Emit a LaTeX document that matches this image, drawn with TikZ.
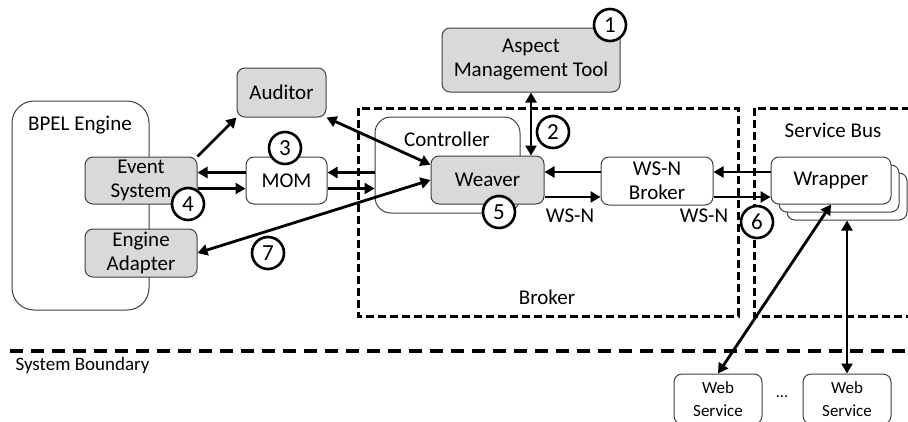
\documentclass[tikz,border=0pt]{standalone}
\usepackage{fontspec}
\setmainfont{Carlito}
\usetikzlibrary{arrows.meta}

\begin{document}
\begin{tikzpicture}[
    x=1pt, y=-1pt,
    every node/.style={font=\fontsize{21}{24}\selectfont},
    part/.style={draw=black!75, line width=1pt, rounded corners=8pt, align=center, inner sep=0pt, fill=white},
    shaded/.style={part, fill=black!15},
    num/.style={circle, draw, line width=2.6pt, fill=white, minimum size=32pt, inner sep=0pt, font=\fontsize{23}{23}\selectfont},
    zone/.style={line width=3pt, dash pattern=on 8pt off 4pt},
    link/.style={line width=2.8pt, -{Triangle[length=10pt,width=11pt]}},
    both/.style={link, {Triangle[length=10pt,width=11pt]}-{Triangle[length=10pt,width=11pt]}}
]
\useasboundingbox (0,0) rectangle (908,421);

% Broker and service bus areas
\draw[zone] (358,108) rectangle (738,316);
\draw[zone] (754,108) rectangle (930,316);
\node (brklbl) at (547,297) {Broker};
\node (buslbl) at (833,130) {Service Bus};

% System boundary
\draw[line width=3.4pt, dash pattern=on 13pt off 8pt] (10,351) -- (908,351);
\node[anchor=west, font=\fontsize{19}{24}\selectfont] (sysb) at (12,365) {System Boundary};

% BPEL engine
\node[part, rounded corners=22pt, minimum width=137pt, minimum height=209pt] (bpel) at (80.5,205.5) {};
\node (bpellbl) at (80,125) {BPEL Engine};
\node[shaded, minimum width=112pt, minimum height=47pt] (evt) at (141,180.5) {Event\\System};
\node[shaded, minimum width=112pt, minimum height=48pt] (ada) at (141,253) {Engine\\Adapter};

\node[shaded, minimum width=89pt, minimum height=49pt] (aud) at (281.5,92.5) {Auditor};
\node[part, minimum width=81pt, minimum height=47pt] (mom) at (286.5,180.5) {MOM};

% Controller with weaver
\node[part, rounded corners=16pt, minimum width=145pt, minimum height=96pt] (ctl) at (447.5,165) {};
\node (ctllbl) at (447,139) {Controller};
\node[shaded, minimum width=113pt, minimum height=48pt] (wea) at (487.5,180) {Weaver};

\node[shaded, minimum width=178pt, minimum height=64pt] (asp) at (531,60) {Aspect\\Management Tool};
\node[part, minimum width=112pt, minimum height=48pt] (wsn) at (657,181) {WS-N\\Broker};

% Wrapper stack
\node[part, minimum width=120pt, minimum height=47pt] (wrp3) at (847,196.5) {};
\node[part, minimum width=120pt, minimum height=47pt] (wrp2) at (839,188.5) {};
\node[part, minimum width=120pt, minimum height=47pt] (wrp) at (831,180.5) {Wrapper};

% Web services
\node[part, font=\fontsize{17}{23}\selectfont, minimum width=88pt, minimum height=50pt] (ws1) at (718,399) {Web\\Service};
\node[part, font=\fontsize{17}{23}\selectfont, minimum width=88pt, minimum height=50pt] (ws2) at (847,399) {Web\\Service};
\node[font=\fontsize{16}{16}\selectfont] (dots) at (782,397) {...};

% Connections
\draw[link] (evt.north east) -- (aud.south west);
\draw[both] (aud.south east) -- (wea.165);
\draw[both] (ada.east) -- (wea.west);
\draw[link] ([yshift=8pt]mom.west) -- ([yshift=8pt]evt.east);
\draw[link] ([yshift=-8pt]evt.east) -- ([yshift=-8pt]mom.west);
\draw[link] ([yshift=8pt]mom.east -| ctl.west) -- ([yshift=8pt]mom.east);
\draw[link] ([yshift=-8pt]mom.east) -- ([yshift=-8pt]mom.east -| ctl.west);
\draw[both] (asp.south) -- (asp.south |- wea.north);
\draw[link] ([yshift=9pt]wsn.west) -- ([yshift=9pt]wsn.west -| wea.east);
\draw[link] ([yshift=-16pt]wsn.west -| wea.east) -- ([yshift=-16pt]wsn.west);
\draw[link] ([yshift=9pt]wsn.east -| wrp.west) -- ([yshift=9pt]wsn.east);
\draw[link] ([yshift=-16pt]wsn.east) -- ([yshift=-16pt]wsn.east -| wrp.west);
\node (wsnl1) at (570,216) {WS-N};
\node (wsnl2) at (704,216) {WS-N};
\draw[both] (wrp.south) -- (ws1.north);
\draw[both] (wrp3.south) -- (ws2.north);

% Numbered steps
\node[num] (c1) at (610,25) {1};
\node[num] (c2) at (553,132) {2};
\node[num] (c3) at (285,148) {3};
\node[num] (c4) at (188,204) {4};
\node[num] (c5) at (499,212) {5};
\node[num] (c6) at (757,222) {6};
\node[num] (c7) at (268,253) {7};

\end{tikzpicture}
\end{document}
